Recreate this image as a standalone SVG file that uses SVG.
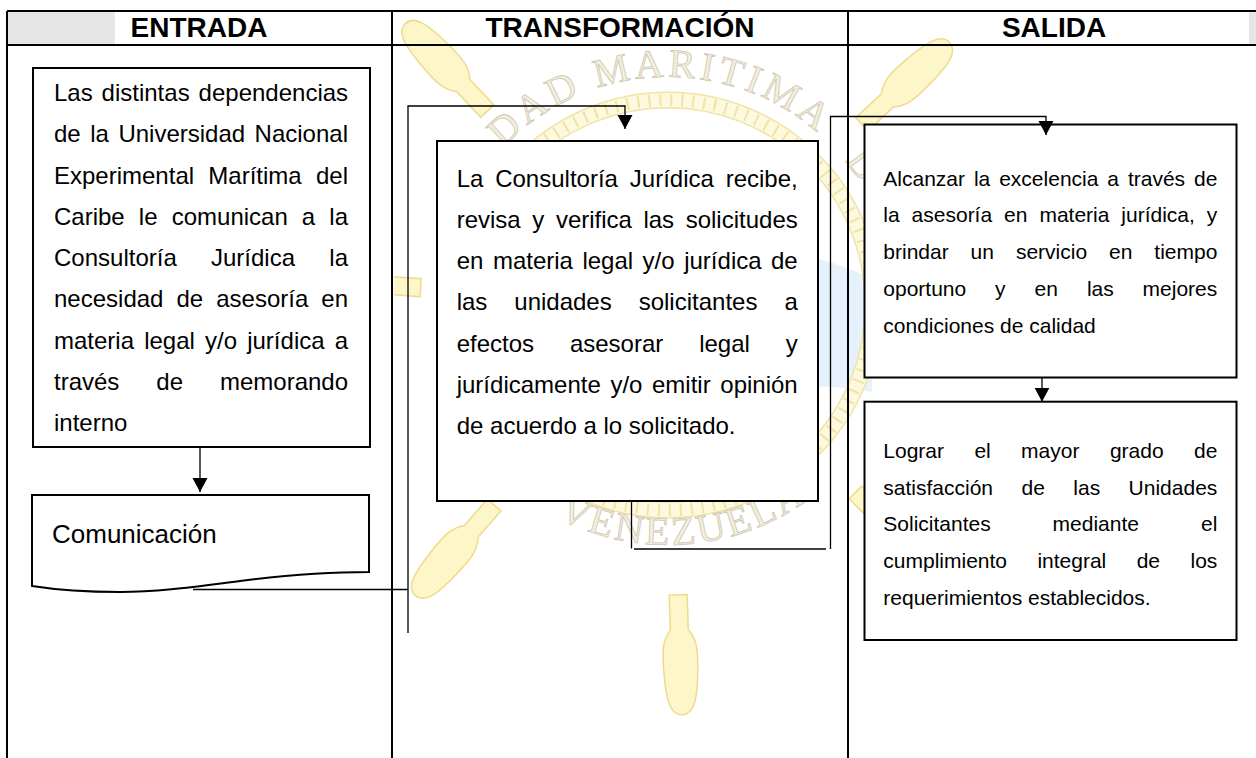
<svg xmlns="http://www.w3.org/2000/svg" width="1256" height="758" viewBox="0 0 1256 758">
<style>
.t{font-family:"Liberation Sans",Arial,sans-serif;fill:#000}
.b24{font-size:24px}
.b21{font-size:21px}
.hdr{font-family:"Liberation Sans",Arial,sans-serif;font-size:28px;font-weight:bold;fill:#000;text-anchor:middle}
.grid{stroke:#000;stroke-width:2;fill:none}
.box{fill:#fff;stroke:#000;stroke-width:2}
.con{fill:none;stroke:#000;stroke-width:1.3}
.hnd{fill:#fcf6c8;stroke:#eedb8c;stroke-width:1.5}
.wmt{font-family:"Liberation Serif","Times New Roman",serif;font-size:40px;fill:#f4efdc;stroke:#cdc6b2;stroke-width:0.8}
</style>
<defs>
<marker id="ah" markerUnits="userSpaceOnUse" markerWidth="16" markerHeight="16" refX="14" refY="7.5" orient="auto">
<path d="M0,0 L14,7.5 L0,15 Z" fill="#000"/>
</marker>
<clipPath id="wmclip"><rect x="394" y="0" width="862" height="758"/></clipPath>
<path id="hshape" d="M265,-9 H300 C310,-17 320,-18 340,-17 C370,-16 385,-12 385,0 C385,12 370,16 340,17 C320,18 310,17 300,9 H265 Z"/>
<path id="arcTop" d="M440,305 A228,228 0 0 1 896,305"/>
<path id="arcBot" d="M442.5,387 A240,240 0 0 0 893.5,387"/>
</defs>
<rect x="0" y="0" width="1256" height="758" fill="#fff"/>

<g id="watermark" clip-path="url(#wmclip)">
<path d="M806,255 C830,262 858,270 872,280 L872,392 C850,388 826,385 806,388 Z" fill="#e6f2fb"/>
<circle cx="668" cy="305" r="205" fill="none" stroke="#f0e3a4" stroke-width="17"/>
<circle cx="668" cy="305" r="205" fill="none" stroke="#fdf9df" stroke-width="14"/>
<circle cx="668" cy="305" r="205" fill="none" stroke="#f0e3a4" stroke-width="12" stroke-dasharray="2 9"/>
<g transform="translate(668,305)">
<use href="#hshape" class="hnd" transform="rotate(-133)"/>
<use href="#hshape" class="hnd" transform="rotate(-43)"/>
<use href="#hshape" class="hnd" transform="rotate(184) translate(-17,0)"/>
<use href="#hshape" class="hnd" transform="rotate(131)"/>
<use href="#hshape" class="hnd" transform="rotate(88) translate(25,0)"/>
<use href="#hshape" class="hnd" transform="rotate(45)"/>
<use href="#hshape" class="hnd" transform="rotate(0)"/>
</g>
<text class="wmt" letter-spacing="4"><textPath href="#arcTop" startOffset="173">DAD MARITIMA</textPath></text>
<text class="wmt"><textPath href="#arcTop" startOffset="560">D</textPath></text>
<text class="wmt" letter-spacing="3"><textPath href="#arcBot" startOffset="53%" text-anchor="middle">VENEZUELA</textPath></text>
</g>

<g id="table">
<rect x="7" y="11" width="108" height="34" fill="#e6e6e6"/>
<rect x="1249" y="11" width="7" height="34" fill="#e6e6e6"/>
<path class="grid" d="M7,11 H1256 M7,45 H1256 M7,11 V758 M392,11 V758 M848,11 V758"/>
<text class="hdr" x="199" y="37">ENTRADA</text>
<text class="hdr" x="620" y="37">TRANSFORMACIÓN</text>
<text class="hdr" x="1054" y="37">SALIDA</text>
</g>

<g id="node-entrada">
<rect class="box" x="33" y="68" width="337" height="379"/>
<text class="t b24" y="101"><tspan x="54">Las</tspan><tspan x="101.6">distintas</tspan><tspan x="198.6">dependencias</tspan></text>
<text class="t b24" y="142.25"><tspan x="54">de</tspan><tspan x="90.2">la</tspan><tspan x="118.4">Universidad</tspan><tspan x="254.6">Nacional</tspan></text>
<text class="t b24" y="183.5"><tspan x="54">Experimental</tspan><tspan x="208.3">Marítima</tspan><tspan x="316">del</tspan></text>
<text class="t b24" y="224.75"><tspan x="54">Caribe</tspan><tspan x="138.8">le</tspan><tspan x="171.7">comunican</tspan><tspan x="301.8">a</tspan><tspan x="329.3">la</tspan></text>
<text class="t b24" y="266"><tspan x="54">Consultoría</tspan><tspan x="211">Jurídica</tspan><tspan x="329.3">la</tspan></text>
<text class="t b24" y="307.25"><tspan x="54">necesidad</tspan><tspan x="176.5">de</tspan><tspan x="216.2">asesoría</tspan><tspan x="321.3">en</tspan></text>
<text class="t b24" y="348.5"><tspan x="54">materia</tspan><tspan x="144.2">legal</tspan><tspan x="205">y/o</tspan><tspan x="247.2">jurídica</tspan><tspan x="334.7">a</tspan></text>
<text class="t b24" y="389.75"><tspan x="54">través</tspan><tspan x="156.3">de</tspan><tspan x="220">memorando</tspan></text>
<text class="t b24" x="54" y="431">interno</text>
</g>

<g id="node-comunicacion">
<path class="box" d="M32,495 H369 V572 C320,572 280,576 240,581 C200,586 160,592 120,592 Q70,592 32,586 Z"/>
<text class="t" font-size="26" x="52" y="543">Comunicación</text>
</g>

<g id="node-transformacion">
<rect class="box" x="437" y="141" width="381" height="360"/>
<text class="t b24" y="186.5"><tspan x="456.7">La</tspan><tspan x="495.2">Consultoría</tspan><tspan x="629.8">Jurídica</tspan><tspan x="725.7">recibe,</tspan></text>
<text class="t b24" y="227.75"><tspan x="456.7">revisa</tspan><tspan x="532.3">y</tspan><tspan x="555.9">verifica</tspan><tspan x="643.4">las</tspan><tspan x="685.7">solicitudes</tspan></text>
<text class="t b24" y="269"><tspan x="456.7">en</tspan><tspan x="492.9">materia</tspan><tspan x="582.4">legal</tspan><tspan x="642.6">y/o</tspan><tspan x="684.2">jurídica</tspan><tspan x="771">de</tspan></text>
<text class="t b24" y="310.25"><tspan x="456.7">las</tspan><tspan x="514.3">unidades</tspan><tspan x="638.7">solicitantes</tspan><tspan x="784.4">a</tspan></text>
<text class="t b24" y="351.5"><tspan x="456.7">efectos</tspan><tspan x="569.9">asesorar</tspan><tspan x="699.2">legal</tspan><tspan x="785.7">y</tspan></text>
<text class="t b24" y="392.75"><tspan x="456.7">jurídicamente</tspan><tspan x="610.4">y/o</tspan><tspan x="652">emitir</tspan><tspan x="720.3">opinión</tspan></text>
<text class="t b24" x="456.7" y="434">de acuerdo a lo solicitado.</text>
</g>

<g id="node-salida-1">
<rect class="box" x="864.5" y="124.5" width="372" height="253" stroke-width="1.8"/>
<text class="t b21" y="185.7"><tspan x="883.3">Alcanzar</tspan><tspan x="973.9">la</tspan><tspan x="999.2">excelencia</tspan><tspan x="1107.3">a</tspan><tspan x="1127.9">través</tspan><tspan x="1194">de</tspan></text>
<text class="t b21" y="222.45"><tspan x="883.3">la</tspan><tspan x="911.6">asesoría</tspan><tspan x="1004.1">en</tspan><tspan x="1039.4">materia</tspan><tspan x="1121.3">jurídica,</tspan><tspan x="1206.8">y</tspan></text>
<text class="t b21" y="259.2"><tspan x="883.3">brindar</tspan><tspan x="970.6">un</tspan><tspan x="1015.9">servicio</tspan><tspan x="1109">en</tspan><tspan x="1154.3">tiempo</tspan></text>
<text class="t b21" y="295.95"><tspan x="883.3">oportuno</tspan><tspan x="995.1">y</tspan><tspan x="1034.6">en</tspan><tspan x="1086.9">las</tspan><tspan x="1142.6">mejores</tspan></text>
<text class="t b21" x="883.3" y="332.7">condiciones de calidad</text>
</g>

<g id="node-salida-2">
<rect class="box" x="864.5" y="401.7" width="372" height="238.3" stroke-width="1.8"/>
<text class="t b21" y="457.7"><tspan x="883.3">Lograr</tspan><tspan x="974.4">el</tspan><tspan x="1021.1">mayor</tspan><tspan x="1109.9">grado</tspan><tspan x="1194">de</tspan></text>
<text class="t b21" y="494.5"><tspan x="883.3">satisfacción</tspan><tspan x="1021.5">de</tspan><tspan x="1073.3">las</tspan><tspan x="1128.6">Unidades</tspan></text>
<text class="t b21" y="531.3"><tspan x="883.3">Solicitantes</tspan><tspan x="1052.6">mediante</tspan><tspan x="1201">el</tspan></text>
<text class="t b21" y="568.1"><tspan x="883.3">cumplimiento</tspan><tspan x="1037.4">integral</tspan><tspan x="1136.7">de</tspan><tspan x="1190.5">los</tspan></text>
<text class="t b21" x="883.3" y="604.9">requerimientos establecidos.</text>
</g>

<g id="connectors">
<path class="con" d="M200,447 V492" marker-end="url(#ah)"/>
<path class="con" d="M193,589.5 H408"/>
<path class="con" d="M408,633 V106 H625 V129" marker-end="url(#ah)"/>
<path class="con" d="M631.5,501 V548.5"/>
<path class="con" d="M634,549 H826"/>
<path class="con" d="M830.5,549 V116.5 H1046 V135" marker-end="url(#ah)"/>
<path class="con" d="M1042,377.5 V401.7" marker-end="url(#ah)"/>
</g>
</svg>
